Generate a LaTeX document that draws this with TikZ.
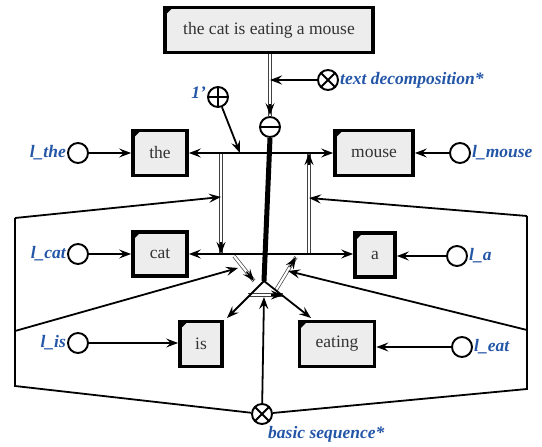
\documentclass[tikz,border=0pt]{standalone}
\usepackage{fontspec}
\setmainfont{Liberation Serif}
\usetikzlibrary{arrows.meta,calc}
\definecolor{lblue}{HTML}{2456A8}
\definecolor{boxfill}{HTML}{EDEDED}
\tikzset{
  wbox/.style={draw=black, line width=3.8pt, fill=boxfill, inner sep=0pt,
    font=\fontsize{17.5}{19}\selectfont, text=black!80},
  sym/.style={circle, draw=black, line width=1.9pt, minimum size=20pt, inner sep=0pt, fill=white},
  otimes/.style={sym, path picture={\draw[line width=1.9pt]
     (path picture bounding box.north west) -- (path picture bounding box.south east)
     (path picture bounding box.north east) -- (path picture bounding box.south west);}},
  oplus/.style={sym, path picture={\draw[line width=1.9pt]
     (path picture bounding box.north) -- (path picture bounding box.south)
     (path picture bounding box.west) -- (path picture bounding box.east);}},
  ominus/.style={sym, path picture={\draw[line width=1.9pt]
     (path picture bounding box.west) -- (path picture bounding box.east);}},
  lbl/.style={text=lblue, font=\fontsize{17.5}{19}\selectfont\bfseries\itshape, inner sep=1pt},
  con/.style={line width=1.8pt, draw=black},
  arr/.style={con, -{Stealth[length=12pt, width=9pt, inset=4.5pt]}},
  barr/.style={con, {Stealth[length=12pt, width=9pt, inset=4.5pt]}-{Stealth[length=12pt, width=9pt, inset=4.5pt]}},
  hollow/.style={draw=black!75, line width=0.7pt, double=white, double distance=2.2pt},
  tip/.style={line width=1.3pt, -{Stealth[length=12pt, width=9pt, inset=4.5pt]}},
}
\begin{document}
\begin{tikzpicture}[x=1pt, y=-1pt]
\useasboundingbox (0,0) rectangle (542,447);

% boxes
\node[wbox, minimum width=208pt, minimum height=45pt] (sent) at (269,30) {the cat is eating a mouse};
\node[wbox, minimum width=54pt, minimum height=45pt] (the) at (160,153) {the};
\node[wbox, minimum width=78pt, minimum height=45pt] (mouse) at (374,153) {mouse};
\node[wbox, minimum width=54pt, minimum height=44pt] (cat) at (160,254) {cat};
\node[wbox, minimum width=40pt, minimum height=44pt] (a) at (375,255) {a};
\node[wbox, minimum width=42pt, minimum height=45pt] (is) at (201,344) {is};
\node[wbox, minimum width=75pt, minimum height=45pt] (eating) at (337,344) {eating};
\foreach \n in {sent,the,mouse,cat,a,is,eating}{
  \fill ([xshift=1.8pt,yshift=-1.8pt]\n.north west) -- ++(8,0) -- ++(-8,8) -- cycle;
}

% circles
\node[sym] (lthe) at (78,153) {};
\node[sym] (lmouse) at (460,153) {};
\node[sym] (lcat) at (78,254) {};
\node[sym] (la) at (457,256) {};
\node[sym] (lis) at (78,343) {};
\node[sym] (leat) at (462,347) {};
\node[ominus] (minus) at (270,127) {};
\node[otimes] (tdec) at (328,80) {};
\node[oplus] (one) at (218,97) {};
\node[otimes] (bseq) at (262,414) {};

% labels
\node[lbl, anchor=east] (tlthe) at (lthe.west) {l\_the};
\node[lbl, anchor=west] (tlmouse) at (lmouse.east) {l\_mouse};
\node[lbl, anchor=east] (tlcat) at (lcat.west) {l\_cat};
\node[lbl, anchor=west] (tla) at (la.east) {l\_a};
\node[lbl, anchor=east] (tlis) at (lis.west) {l\_is};
\node[lbl, anchor=west] (tleat) at (leat.east) {l\_eat};
\node[lbl, anchor=east] (tone) at ([yshift=4pt]one.west) {1'};
\node[lbl, anchor=west] (ttdec) at (tdec.east) {text decomposition*};
\node[lbl, anchor=north west] (tbseq) at (267,425) {basic sequence*};

% coordinates
\coordinate (apex) at (264,281);
\coordinate (bl) at (248,295);
\coordinate (br) at (283,295);
\coordinate (ut) at (270,80);
\coordinate (u1) at (240,153);
\coordinate (lv1) at (221,153);
\coordinate (lv2) at (221,254);
\coordinate (rv1) at (309,254);
\coordinate (rv2) at (309,153);
\coordinate (hd1) at (234,256);
\coordinate (hd2) at (254,281);
\coordinate (hr1) at (276,290);
\coordinate (hr2) at (296,257);
\coordinate (isp) at (227,318);
\coordinate (eatp) at (311,318);
\coordinate (tb) at (264,297);
\coordinate (L1) at (15,386);
\coordinate (L2) at (15,331);
\coordinate (L3) at (15,218);
\coordinate (Lt1) at (221,197);
\coordinate (Lt2) at (238,268);
\coordinate (R1) at (527,389);
\coordinate (R2) at (527,330);
\coordinate (R3) at (527,216);
\coordinate (Rt1) at (309,198);
\coordinate (Rt2) at (288,271);

% hollow lines
\draw[hollow] (sent.south -| minus) -- (minus.north);
\draw[tip] ($(minus.north)!12pt!(sent.south -| minus)$) -- ([yshift=1pt]minus.north);
\draw[hollow] (lv1) -- (lv2);
\draw[tip] ($(lv2)!12pt!(lv1)$) -- (lv2);
\draw[hollow] (rv1) -- (rv2);
\draw[tip] ($(rv2)!12pt!(rv1)$) -- (rv2);
\draw[hollow] (hd1) -- (hd2);
\draw[tip] ($(hd2)!12pt!(hd1)$) -- (hd2);
\draw[hollow] (hr1) -- (hr2);
\draw[tip] ($(hr2)!12pt!(hr1)$) -- (hr2);
\draw[hollow] (bl) -- (br);
\draw[tip] ($(br)!12pt!(bl)$) -- (br);

% thick spine
\draw[line width=5pt] (minus.south) -- (apex);

% horizontal bars
\draw[barr] (the.east) -- (mouse.west);
\draw[barr] (cat.east) -- (cat.east -| a.west);

% triangle legs
\draw[arr] (apex) -- (isp);
\draw[arr] (apex) -- (eatp);

% small arrows
\draw[arr] (tdec) -- (ut);
\draw[arr] (one) -- (u1);
\draw[arr] (bseq) -- (tb);

% outer frame
\draw[con] (bseq) -- (L1) -- (L3);
\draw[arr] (L3) -- (Lt1);
\draw[arr] (L2) -- (Lt2);
\draw[con] (bseq) -- (R1) -- (R3);
\draw[arr] (R3) -- (Rt1);
\draw[arr] (R2) -- (Rt2);

% circle to box
\draw[arr] (lthe) -- (the);
\draw[arr] (lmouse) -- (mouse);
\draw[arr] (lcat) -- (cat);
\draw[arr] (la) -- (la -| a.east);
\draw[arr] (lis) -- (lis -| is.west);
\draw[arr] (leat) -- (leat -| eating.east);
\end{tikzpicture}
\end{document}
